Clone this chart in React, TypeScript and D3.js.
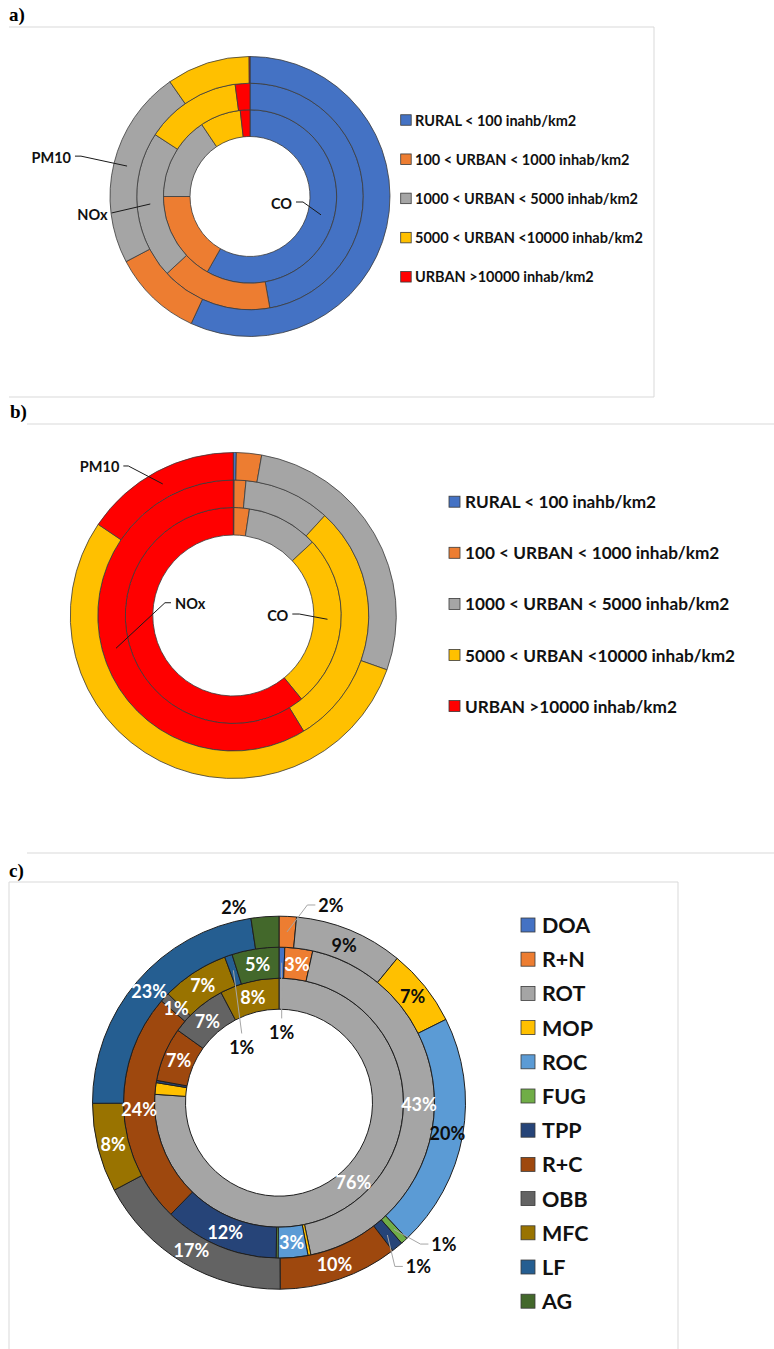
import React from "react";
import * as d3 from "d3";

// ---------- DATA ----------
const densityClasses = [
  "RURAL < 100 inahb/km2",
  "100 < URBAN < 1000 inhab/km2",
  "1000 < URBAN < 5000 inhab/km2",
  "5000 < URBAN <10000 inhab/km2",
  "URBAN >10000 inhab/km2",
];
const densityColors = ["#4472C4", "#ED7D31", "#A5A5A5", "#FFC000", "#FF0000"];
const pollutants = ["CO", "NOx", "PM10"]; // inner -> outer ring

// panel a) shares per density class
const aCO = [58.2, 16.8, 15.6, 7.6, 1.8];
const aNOx = [47.2, 15.9, 21.1, 13.7, 2.1];
const aPM10 = [56.9, 10.4, 23.0, 9.6, 0.1];

// panel b) shares per density class
const bCO = [0.1, 2.3, 10.7, 26.0, 60.9];
const bNOx = [0.1, 1.4, 10.3, 29.5, 58.7];
const bPM10 = [0.3, 2.5, 27.7, 54.2, 15.6];

// panel c) source shares
const sources = ["DOA", "R+N", "ROT", "MOP", "ROC", "FUG", "TPP", "R+C", "OBB", "MFC", "LF", "AG"];
const sourceColors = [
  "#4472C4", "#ED7D31", "#A5A5A5", "#FFC000", "#5B9BD5", "#70AD47",
  "#264478", "#9E480E", "#636363", "#997300", "#255E91", "#43682B",
];
const cInner = [0, 0, 76.0, 1.5, 0, 0, 0.3, 7.0, 7.4, 7.7, 0, 0];
const cMiddle = [0.6, 2.9, 43.4, 0.3, 3.1, 0.2, 12.0, 24.2, 1.0, 7.0, 0.8, 4.9];
const cOuter = [0, 1.5, 9.4, 6.7, 20.3, 0.6, 1.0, 10.3, 17.3, 7.7, 22.6, 2.4];

// ---------- LAYOUT / STYLE CONFIG ----------
const W = 774;
const H = 1349;
const FONT = "Lato, 'Open Sans', sans-serif";
const SERIF = "'Liberation Serif', 'Times New Roman', serif";

const panelA = { cx: 250, cy: 196.5, radii: [60, 86.7, 113.3, 140] };
const panelB = { cx: 233.3, cy: 615.5, radii: [80.5, 108, 135.5, 163] };
const panelC = { cx: 279, cy: 1102.7, radii: [93.5, 124.5, 155.5, 186.5] };

// ring-name callouts: ring index, angle of point on ring, text anchor polar, side
const ringLabelsA = [
  { ring: 2, pointAngle: 283.9, textAngle: 282.4, textR: 183.3, anchor: "end", elbow: 6 },
  { ring: 1, pointAngle: 265.7, textAngle: 263, textR: 143.6, anchor: "end", elbow: 0 },
  { ring: 0, pointAngle: 104.5, textAngle: 98.8, textR: 42.5, anchor: "end", elbow: 7 },
];
const ringLabelsB = [
  { ring: 2, pointAngle: 331.8, textAngle: 322.5, textR: 187.2, anchor: "end", elbow: 5 },
  { ring: 1, pointAngle: 254.4, textAngle: 281.4, textR: 59.5, anchor: "start", elbow: 6 },
  { ring: 0, pointAngle: 92.3, textAngle: 89.5, textR: 55, anchor: "end", elbow: 7 },
];

// panel c callouts (ring index 0 inner .. 2 outer)
const cCallouts = [
  { ring: 2, cat: "AG", angle: 347.0, r: 200.8, leader: "none" },
  { ring: 2, cat: "R+N", angle: 14.7, r: 204.4, leader: "left" },
  { ring: 2, cat: "FUG", angle: 130.6, r: 217.2, leader: "left" },
  { ring: 2, cat: "TPP", angle: 139.6, r: 215, leader: "left" },
  { ring: 1, cat: "DOA", angle: 2.2, r: 70.3, leader: "top" },
  { ring: 1, cat: "LF", angle: 326, r: 66.6, leader: "top" },
];
const cHidden = [{ ring: 0, cat: "MOP" }];
const cDarkOuter = ["ROT", "MOP", "ROC"];

// ---------- HELPERS ----------
const rad = (deg: number) => (deg * Math.PI) / 180;
function polar(cx: number, cy: number, deg: number, r: number): [number, number] {
  return [cx + r * Math.sin(rad(deg)), cy - r * Math.cos(rad(deg))];
}
const pie = d3
  .pie<number>()
  .sort(null)
  .value((d) => d)
  .startAngle(0)
  .endAngle(2 * Math.PI);

function Rings({ cfg, series, colors, stroke, sw }: any) {
  return (
    <g transform={`translate(${cfg.cx},${cfg.cy})`}>
      {series.map((vals: number[], ri: number) => {
        const gen = d3.arc<any>().innerRadius(cfg.radii[ri]).outerRadius(cfg.radii[ri + 1]);
        return pie(vals).map((a, i) =>
          a.value > 0 ? (
            <path key={`${ri}-${i}`} d={gen(a) || ""} fill={colors[i]} stroke={stroke} strokeWidth={sw} />
          ) : null
        );
      })}
    </g>
  );
}

function RingNames({ cfg, labels, fontSize }: any) {
  return (
    <g>
      {labels.map((l: any, i: number) => {
        const rMid = (cfg.radii[l.ring] + cfg.radii[l.ring + 1]) / 2;
        const [px, py] = polar(cfg.cx, cfg.cy, l.pointAngle, rMid);
        const [tx, ty] = polar(cfg.cx, cfg.cy, l.textAngle, l.textR);
        const dir = l.anchor === "end" ? 1 : -1;
        const sx = tx + dir * 4;
        const ex = sx + dir * l.elbow;
        return (
          <g key={i}>
            <polyline
              points={`${sx},${ty - 1} ${ex},${ty - 1} ${px},${py}`}
              fill="none"
              stroke="#1a1a1a"
              strokeWidth={1}
            />
            <text
              x={tx}
              y={ty}
              textAnchor={l.anchor}
              dominantBaseline="central"
              fontFamily={FONT}
              fontWeight="bold"
              fontSize={fontSize}
              fill="#111"
            >
              {pollutants[l.ring]}
            </text>
          </g>
        );
      })}
    </g>
  );
}

function Legend({ x, y0, step, size, textX, fontSize, names, colors }: any) {
  return (
    <g>
      {names.map((n: string, i: number) => {
        const y = y0 + i * step;
        return (
          <g key={n}>
            <rect x={x} y={y - size / 2} width={size} height={size} fill={colors[i]} stroke="#3a3a3a" strokeWidth={0.8} />
            <text
              x={textX}
              y={y}
              dominantBaseline="central"
              fontFamily={FONT}
              fontWeight="bold"
              fontSize={fontSize}
              fill="#111"
            >
              {n}
            </text>
          </g>
        );
      })}
    </g>
  );
}

function CLabels() {
  const series = [cInner, cMiddle, cOuter];
  const cfg = panelC;
  const out: any[] = [];
  series.forEach((vals, ri) => {
    const total = d3.sum(vals);
    const gen = d3
      .arc<any>()
      .innerRadius(cfg.radii[ri])
      .outerRadius(cfg.radii[ri + 1]);
    pie(vals).forEach((a, i) => {
      const cat = sources[i];
      const pct = Math.round((a.value / total) * 100);
      if (a.value <= 0 || pct < 1) return;
      if (cHidden.some((h) => h.ring === ri && h.cat === cat)) return;
      const txt = `${pct}%`;
      const [mx, my] = gen.centroid(a);
      const cx0 = cfg.cx + mx;
      const cy0 = cfg.cy + my;
      const co = cCallouts.find((c) => c.ring === ri && c.cat === cat);
      if (co) {
        const [tx, ty] = polar(cfg.cx, cfg.cy, co.angle, co.r);
        const halfW = 12.5;
        if (co.leader === "left") {
          const ex = tx - halfW - 3;
          out.push(
            <polyline
              key={`l${ri}${i}`}
              points={`${cx0},${cy0} ${ex - 8},${ty} ${ex},${ty}`}
              fill="none"
              stroke="#a6a6a6"
              strokeWidth={1}
            />
          );
        } else if (co.leader === "top") {
          out.push(
            <line
              key={`l${ri}${i}`}
              x1={cx0}
              y1={cy0}
              x2={tx}
              y2={ty - 14}
              stroke="#a6a6a6"
              strokeWidth={1}
            />
          );
        }
        out.push(
          <text
            key={`t${ri}${i}`}
            x={tx}
            y={ty}
            textAnchor="middle"
            dominantBaseline="central"
            fontFamily={FONT}
            fontWeight="bold"
            fontSize={18}
            fill="#0d0d0d"
          >
            {txt}
          </text>
        );
      } else {
        const dark = ri === 2 && cDarkOuter.includes(cat);
        out.push(
          <text
            key={`t${ri}${i}`}
            x={cx0}
            y={cy0}
            textAnchor="middle"
            dominantBaseline="central"
            fontFamily={FONT}
            fontWeight="bold"
            fontSize={18}
            fill={dark ? "#0d0d0d" : "#ffffff"}
          >
            {txt}
          </text>
        );
      }
    });
  });
  return <g>{out}</g>;
}

export default function App() {
  const border = "#d9d9d9";
  return (
    <svg
      width={W}
      height={H}
      viewBox={`0 0 ${W} ${H}`}
      style={{ position: "absolute", left: 0, top: 0, background: "#fff" }}
    >
      <rect x={0} y={0} width={W} height={H} fill="#fff" />

      {/* panel a frame */}
      <text x={9} y={21} fontFamily={SERIF} fontWeight="bold" fontSize={19} fill="#000">a)</text>
      <line x1={9} y1={27} x2={654} y2={27} stroke={border} strokeWidth={1} />
      <line x1={654} y1={27} x2={654} y2={397} stroke={border} strokeWidth={1} />
      <line x1={9} y1={397} x2={654} y2={397} stroke={border} strokeWidth={1} />

      <Rings cfg={panelA} series={[aCO, aNOx, aPM10]} colors={densityColors} stroke="#3b3b3b" sw={0.8} />
      <RingNames cfg={panelA} labels={ringLabelsA} fontSize={14.5} />
      <Legend x={400.7} y0={120} step={39.2} size={10.5} textX={415} fontSize={14.5} names={densityClasses} colors={densityColors} />

      {/* panel b */}
      <text x={10} y={418} fontFamily={SERIF} fontWeight="bold" fontSize={19} fill="#000">b)</text>
      <line x1={27} y1={424} x2={774} y2={424} stroke={border} strokeWidth={1} />

      <Rings cfg={panelB} series={[bCO, bNOx, bPM10]} colors={densityColors} stroke="#3b3b3b" sw={0.8} />
      <RingNames cfg={panelB} labels={ringLabelsB} fontSize={14.5} />
      <Legend x={449} y0={501.7} step={51.1} size={11} textX={465} fontSize={17.2} names={densityClasses} colors={densityColors} />

      {/* panel c */}
      <line x1={27} y1={853} x2={774} y2={853} stroke={border} strokeWidth={1} />
      <text x={9} y={877} fontFamily={SERIF} fontWeight="bold" fontSize={19} fill="#000">c)</text>
      <line x1={9} y1={882} x2={678} y2={882} stroke={border} strokeWidth={1} />
      <line x1={9} y1={882} x2={9} y2={H} stroke={border} strokeWidth={1} />
      <line x1={678} y1={882} x2={678} y2={H} stroke={border} strokeWidth={1} />

      <Rings cfg={panelC} series={[cInner, cMiddle, cOuter]} colors={sourceColors} stroke="#1f1f1f" sw={1} />
      <CLabels />
      <Legend x={521} y0={925} step={34.2} size={14} textX={542} fontSize={21.5} names={sources} colors={sourceColors} />
    </svg>
  );
}
